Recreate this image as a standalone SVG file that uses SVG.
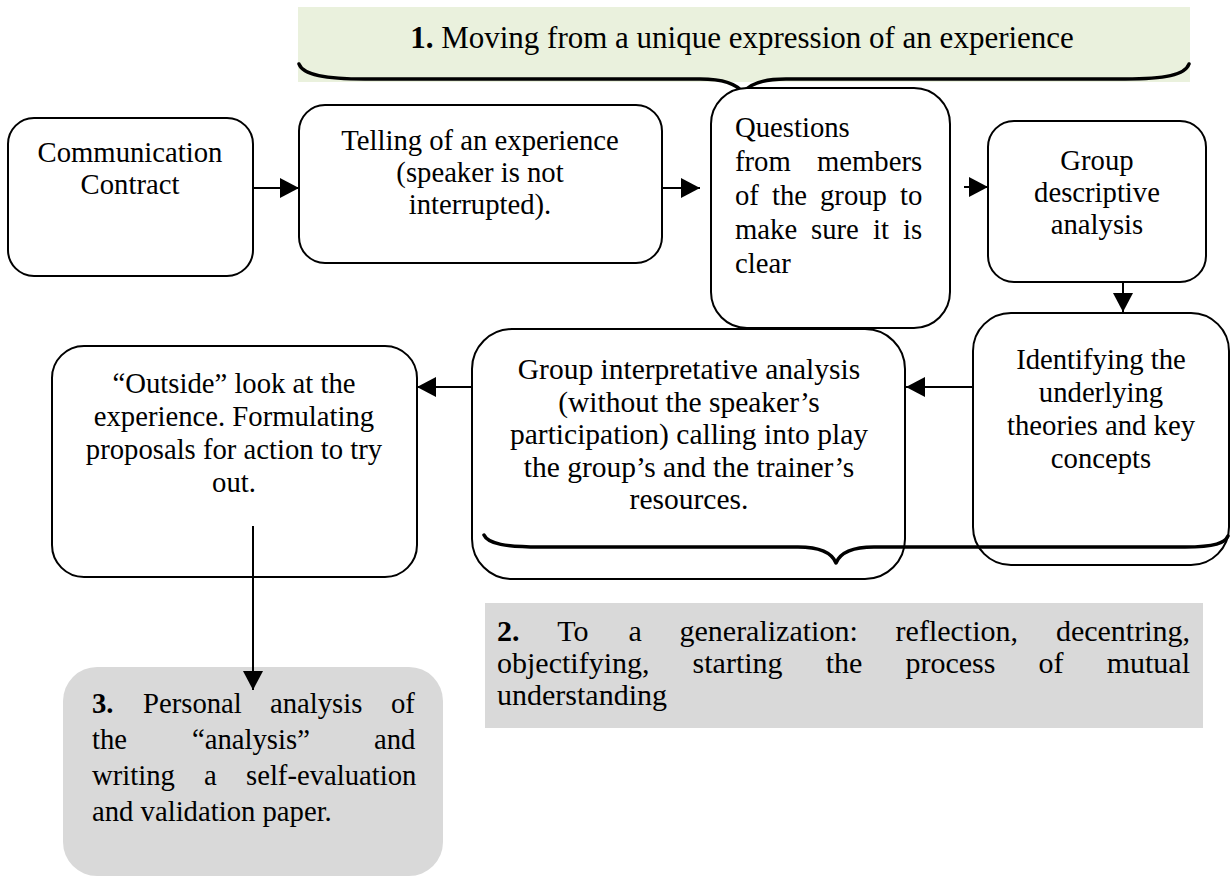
<svg xmlns="http://www.w3.org/2000/svg" width="1231" height="878" viewBox="0 0 1231 878">
  <style>
    .box { fill: #ffffff; stroke: #000000; stroke-width: 2; }
    .grey { fill: #d9d9d9; stroke: none; }
    .txt { font-family: "Liberation Serif", "Times New Roman", serif; font-size: 28.7px; fill: #000000; }
    .big { font-size: 30px; }
    .title { font-size: 31px; }
    .mid { text-anchor: middle; }
    .b { font-weight: bold; }
    .brace { fill: none; stroke: #000000; stroke-width: 3.5; stroke-linecap: round; stroke-linejoin: round; }
    .conn { stroke: #000000; stroke-width: 2; fill: none; }
  </style>
  <defs>
    <marker id="arrow" markerUnits="userSpaceOnUse" markerWidth="20" markerHeight="20" refX="19" refY="10" orient="auto">
      <path d="M0,0 L19,10 L0,20 Z" fill="#000000"/>
    </marker>
  </defs>

  <!-- heading band 1 with its brace -->
  <g id="heading1">
    <rect x="298" y="7" width="892" height="75" fill="#eaf1dd"/>
    <text class="txt title mid" x="742" y="48"><tspan class="b">1.</tspan> Moving from a unique expression of an experience</text>
    <path class="brace" d="M299,64 C303,75 325,79 365,79 L700,79 C724,79 737,84 743,93 C749,84 762,79 786,79 L1125,79 C1165,79 1185,75 1189,64"/>
  </g>

  <g id="communication-contract">
    <rect class="box" x="8" y="118" width="245" height="158" rx="26"/>
    <text class="txt mid" x="130" y="162">Communication</text>
    <text class="txt mid" x="130" y="194">Contract</text>
  </g>

  <g id="telling">
    <rect class="box" x="299" y="105" width="363" height="158" rx="26"/>
    <text class="txt mid" x="480" y="150">Telling of an experience</text>
    <text class="txt mid" x="480" y="182">(speaker is not</text>
    <text class="txt mid" x="480" y="214">interrupted).</text>
  </g>

  <g id="questions">
    <rect class="box" x="711" y="88" width="239" height="240" rx="36"/>
    <text class="txt" x="735" y="137">Questions</text>
    <text class="txt" y="171"><tspan x="735">from</tspan><tspan x="817">members</tspan></text>
    <text class="txt" y="205"><tspan x="735">of</tspan><tspan x="772">the</tspan><tspan x="820">group</tspan><tspan x="900">to</tspan></text>
    <text class="txt" y="239"><tspan x="735">make</tspan><tspan x="811">sure</tspan><tspan x="873">it</tspan><tspan x="903">is</tspan></text>
    <text class="txt" x="735" y="273">clear</text>
  </g>

  <g id="group-descriptive">
    <rect class="box" x="988" y="121" width="218" height="161" rx="26"/>
    <text class="txt mid" x="1097" y="170">Group</text>
    <text class="txt mid" x="1097" y="202">descriptive</text>
    <text class="txt mid" x="1097" y="234">analysis</text>
  </g>

  <g id="identifying">
    <rect class="box" x="973" y="313" width="256" height="252" rx="38"/>
    <text class="txt mid" x="1101" y="369">Identifying the</text>
    <text class="txt mid" x="1101" y="402">underlying</text>
    <text class="txt mid" x="1101" y="435">theories and key</text>
    <text class="txt mid" x="1101" y="468">concepts</text>
  </g>

  <g id="group-interpretative">
    <rect class="box" x="472" y="329" width="433" height="250" rx="40"/>
    <text class="txt mid" x="689" y="379" style="font-size:29.5px">Group interpretative analysis</text>
    <text class="txt mid" x="689" y="411.5" style="font-size:29.5px">(without the speaker’s</text>
    <text class="txt mid" x="689" y="444" style="font-size:29.5px">participation) calling into play</text>
    <text class="txt mid" x="689" y="476.5" style="font-size:29.5px">the group’s and the trainer’s</text>
    <text class="txt mid" x="689" y="509" style="font-size:29.5px">resources.</text>
  </g>

  <!-- brace spanning the analysis steps -->
  <path id="brace2" class="brace" d="M484,535 C488,544 506,547 540,547 L798,547 C820,547 832,553 836,563 C840,553 852,547 874,547 L1185,547 C1215,547 1225,543 1228,536"/>

  <g id="outside-look">
    <rect class="box" x="52" y="346" width="365" height="231" rx="32"/>
    <text class="txt mid" x="234" y="393">“Outside” look at the</text>
    <text class="txt mid" x="234" y="426">experience. Formulating</text>
    <text class="txt mid" x="234" y="459">proposals for action to try</text>
    <text class="txt mid" x="234" y="492">out.</text>
  </g>

  <g id="generalization">
    <rect class="grey" x="485" y="603" width="718" height="125"/>
    <text class="txt big" y="641"><tspan class="b" x="497">2.</tspan><tspan x="557.3">To</tspan><tspan x="628.4">a</tspan><tspan x="679.5">generalization:</tspan><tspan x="895.6">reflection,</tspan><tspan x="1055.9">decentring,</tspan></text>
    <text class="txt big" y="673"><tspan x="497">objectifying,</tspan><tspan x="692.6">starting</tspan><tspan x="825.7">the</tspan><tspan x="905.5">process</tspan><tspan x="1038.6">of</tspan><tspan x="1106.7">mutual</tspan></text>
    <text class="txt big" x="497" y="705">understanding</text>
  </g>

  <g id="personal-analysis">
    <rect class="grey" x="63" y="667" width="380" height="209" rx="34"/>
    <text class="txt" y="713"><tspan class="b" x="92">3.</tspan><tspan x="143">Personal</tspan><tspan x="270">analysis</tspan><tspan x="391">of</tspan></text>
    <text class="txt" y="749"><tspan x="92">the</tspan><tspan x="192">“analysis”</tspan><tspan x="374">and</tspan></text>
    <text class="txt" y="785"><tspan x="92">writing</tspan><tspan x="204">a</tspan><tspan x="246">self-evaluation</tspan></text>
    <text class="txt" x="92" y="821">and validation paper.</text>
  </g>

  <g id="connectors">
    <line class="conn" x1="253" y1="188" x2="299" y2="188" marker-end="url(#arrow)"/>
    <line class="conn" x1="662" y1="188" x2="700" y2="188" marker-end="url(#arrow)"/>
    <line class="conn" x1="964" y1="187" x2="988" y2="187" marker-end="url(#arrow)"/>
    <line class="conn" x1="1123" y1="282" x2="1123" y2="312" marker-end="url(#arrow)"/>
    <line class="conn" x1="973" y1="387" x2="906" y2="387" marker-end="url(#arrow)"/>
    <line class="conn" x1="472" y1="387" x2="417" y2="387" marker-end="url(#arrow)"/>
    <line class="conn" x1="253" y1="526" x2="253" y2="690" marker-end="url(#arrow)"/>
  </g>
</svg>
